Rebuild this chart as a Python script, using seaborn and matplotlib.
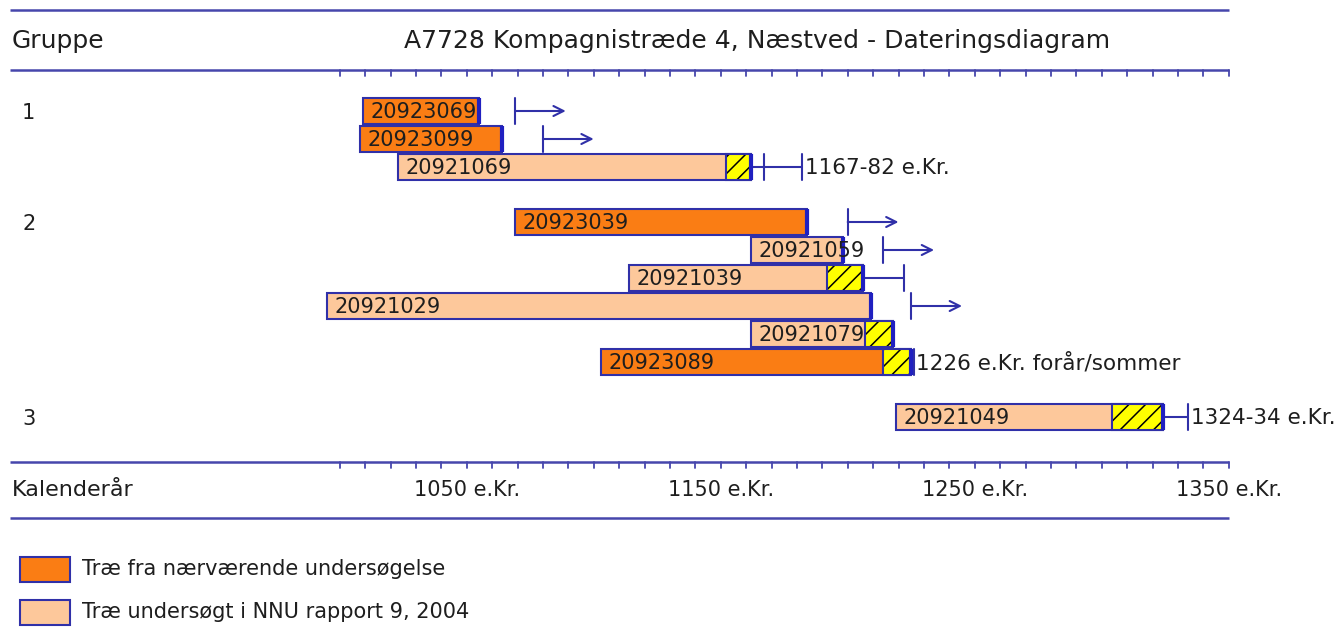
import numpy as np
import pandas as pd
import seaborn as sns
import matplotlib.pyplot as plt
import matplotlib.transforms as mtransforms

# data (years AD)
samples = ['20923069', '20923099', '20921069',
           '20923039', '20921059', '20921039', '20921029', '20921079', '20923089',
           '20921049']
group = [1, 1, 1, 2, 2, 2, 2, 2, 2, 3]
source = ['ny', 'ny', 'nnu', 'ny', 'nnu', 'nnu', 'nnu', 'nnu', 'ny', 'nnu']
start = [1009, 1008, 1023, 1069, 1162, 1114, 995, 1162, 1103, 1219]
end = [1055, 1064, 1162, 1184, 1198, 1206, 1209, 1218, 1225, 1324]
sap_start = [np.nan, np.nan, 1152, np.nan, np.nan, 1192, np.nan, 1207, 1214, 1304]
# "felled after" arrows
after = [1069, 1080, np.nan, 1200, 1214, np.nan, 1225, np.nan, np.nan, np.nan]
# felling intervals
fell_from = [np.nan, np.nan, 1167, np.nan, np.nan, 1206, np.nan, np.nan, 1226, 1324]
fell_to = [np.nan, np.nan, 1182, np.nan, np.nan, 1222, np.nan, np.nan, 1226, 1334]
fell_text = ['', '', '1167-82 e.Kr.', '', '', '', '', '', '1226 e.Kr. forår/sommer', '1324-34 e.Kr.']

tick_years = np.arange(1000, 1351, 10)
label_years = [1050, 1150, 1250, 1350]

title = 'A7728 Kompagnistræde 4, Næstved - Dateringsdiagram'
legend_labels = ['Træ fra nærværende undersøgelse', 'Træ undersøgt i NNU rapport 9, 2004']

df = pd.DataFrame({'sample': samples, 'group': group, 'source': source,
                   'start': start, 'end': end, 'sap': sap_start,
                   'after': after, 'f0': fell_from, 'f1': fell_to, 'ftxt': fell_text})

sns.set_theme(style='white')
plt.rcParams['font.family'] = ['DejaVu Sans']
plt.rcParams['hatch.linewidth'] = 1.1

colors = {'ny': '#fa7d14', 'nnu': '#fdc89b'}
blue = '#3030a8'
line_blue = '#4646ac'
txt = '#1e1e1e'

W, H = 1344, 633
fig = plt.figure(figsize=(W / 100, H / 100), dpi=100)
ax = fig.add_axes([0, 0, 1, 1])

# x axis in years, y axis in pixel rows of the layout
px_per_year = 2.54
x_left = 1050 - 466.7 / px_per_year
ax.set_xlim(x_left, x_left + W / px_per_year)
ax.set_ylim(H, 0)
ax.axis('off')
tr = mtransforms.blended_transform_factory(ax.transAxes, ax.transData)

def px(x):
    return x_left + x / px_per_year

# row positions
row_step, group_gap, first_row = 28, 27, 111
row_y = []
for i, g in enumerate(group):
    row_y.append(first_row + i * row_step + (g - 1) * group_gap)
df['y'] = row_y
bar_h = 26

# frame lines
for yy in [10, 70, 462, 518]:
    ax.plot([px(10), 1350], [yy, yy], color=line_blue, lw=1.8, solid_capstyle='butt')
for yy in [70, 462]:
    for t in tick_years:
        ax.plot([t, t], [yy, yy + 6], color=line_blue, lw=1.3)

ax.text(12 / W, 41, 'Gruppe', transform=tr, fontsize=18, color=txt, va='center', ha='left')
ax.text(757 / W, 41, title, transform=tr, fontsize=18, color=txt, va='center', ha='center')
ax.text(12 / W, 490, 'Kalenderår', transform=tr, fontsize=16, color=txt, va='center', ha='left')
for yr in label_years:
    ax.text(yr, 490, f'{yr} e.Kr.', fontsize=15, color=txt, va='center', ha='center')

# group numbers
for g, sub in df.groupby('group'):
    ax.text(22 / W, sub['y'].iloc[0] + 2, str(g), transform=tr, fontsize=15,
            color=txt, va='center', ha='left')

# bars
for _, r in df.iterrows():
    ax.barh(r['y'], r['end'] - r['start'], left=r['start'], height=bar_h,
            color=colors[r['source']], edgecolor=blue, linewidth=1.5, zorder=2)
    if not np.isnan(r['sap']):
        ax.barh(r['y'], r['end'] - r['sap'], left=r['sap'], height=bar_h,
                color='#ffff00', edgecolor='black', hatch='//', linewidth=0, zorder=3)
        ax.barh(r['y'], r['end'] - r['sap'], left=r['sap'], height=bar_h,
                color='none', edgecolor=blue, linewidth=1.5, zorder=4)
    # thick end mark
    ax.plot([r['end'], r['end']], [r['y'] - bar_h / 2, r['y'] + bar_h / 2],
            color='#2020c0', lw=3, zorder=5, solid_capstyle='butt')
    ax.text(r['start'] + 3, r['y'] + 1, r['sample'], fontsize=15, color=txt,
            va='center', ha='left', zorder=6)
    if not np.isnan(r['after']):
        a = r['after']
        ax.plot([a, a], [r['y'] - bar_h / 2, r['y'] + bar_h / 2], color=blue, lw=1.5)
        ax.annotate('', xy=(a + 20, r['y']), xytext=(a, r['y']),
                    arrowprops=dict(arrowstyle='->', color=blue, lw=1.5,
                                    mutation_scale=18, shrinkA=0, shrinkB=0))
    if not np.isnan(r['f0']):
        f0, f1 = r['f0'], r['f1']
        ax.plot([f1, f1], [r['y'] - bar_h / 2, r['y'] + bar_h / 2], color=blue, lw=1.5)
        if f1 > f0:
            ax.plot([f0, f0], [r['y'] - bar_h / 2, r['y'] + bar_h / 2], color=blue, lw=1.5)
            ax.plot([min(f0, r['end']), f1], [r['y'], r['y']], color=blue, lw=1.5)
        if r['ftxt']:
            ax.text(f1 + 1, r['y'] + 1, r['ftxt'], fontsize=15.5, color=txt,
                    va='center', ha='left')

# legend boxes
for i, (key, lab) in enumerate(zip(['ny', 'nnu'], legend_labels)):
    yy = 569 + i * 43
    ax.add_patch(plt.Rectangle((px(20), yy - 12.5), 50 / px_per_year, 25,
                               facecolor=colors[key], edgecolor=blue, lw=1.5))
    ax.text(82 / W, yy, lab, transform=tr, fontsize=15, color=txt, va='center', ha='left')

fig.savefig('out.png', dpi=100, facecolor='white')
